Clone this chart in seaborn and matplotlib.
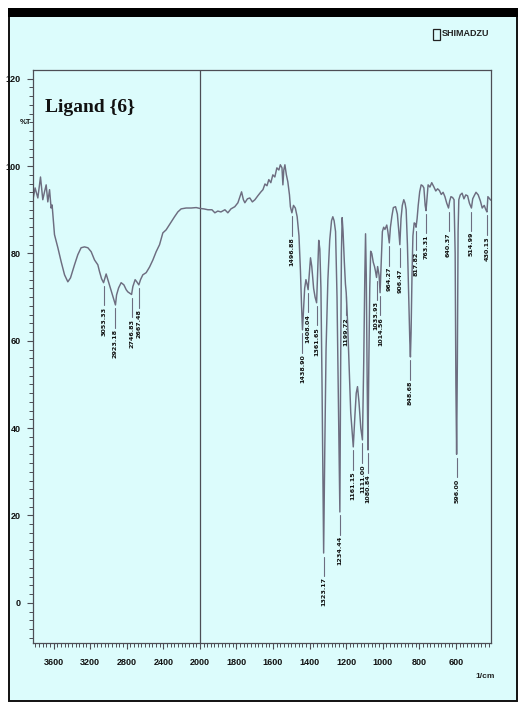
import numpy as np
import pandas as pd
import seaborn as sns
import matplotlib
matplotlib.use("Agg")
import matplotlib.pyplot as plt
from matplotlib.patches import Rectangle
from matplotlib.ticker import FixedLocator, NullFormatter

# ---- spectrum trace (wavenumber in 1/cm, transmittance in %) ----
curve_wavenumber = [
    3822, 3802, 3772, 3743, 3718, 3699, 3681, 3663, 3644, 3627, 3616, 3590,
    3553, 3517, 3480, 3444, 3415, 3371, 3335, 3299, 3262, 3225, 3189, 3152,
    3116, 3097, 3075, 3025, 2988, 2963, 2911, 2889, 2861, 2831, 2806, 2788,
    2733, 2708, 2690, 2649, 2624, 2587, 2550, 2514, 2478, 2441, 2405, 2369,
    2332, 2277, 2241, 2205, 2150, 2095, 2040, 2000,
    1978, 1956, 1934, 1918, 1902, 1885, 1863, 1847, 1830, 1809, 1792, 1772,
    1762, 1754, 1740, 1727, 1713, 1699, 1683, 1666, 1655, 1644, 1633, 1623,
    1612, 1601, 1590, 1579, 1568, 1560, 1551, 1546, 1541, 1535, 1527, 1519,
    1510, 1505, 1488, 1478, 1468, 1458, 1450, 1444, 1433, 1427, 1420, 1414,
    1402, 1395, 1388, 1378, 1370, 1356, 1350, 1344, 1338, 1332, 1327, 1317,
    1310, 1300, 1290, 1280, 1273, 1266, 1258, 1250, 1242, 1230, 1226, 1222,
    1217, 1210, 1204, 1192, 1184, 1175, 1152, 1145, 1138, 1130, 1120, 1104,
    1098, 1094, 1090, 1085, 1076, 1071, 1066, 1060, 1052, 1045, 1040, 1028,
    1020, 1008, 1002, 995, 988, 978, 972, 958, 950, 942, 930, 920, 912, 900,
    893, 885, 878, 872, 865, 858, 852, 845, 840, 835, 828, 822, 812, 806, 798,
    790, 782, 775, 768, 758, 752, 742, 732, 720, 710, 700, 690, 680, 670, 660,
    650, 634, 627, 618, 610, 604, 600, 592, 588, 584, 576, 566, 556, 546, 536,
    526, 508, 500, 490, 478, 466, 456, 445, 436, 425, 417, 410,
]
curve_transmittance = [
    92.7, 95.0, 92.7, 97.5, 92.3, 94.1, 95.7, 91.8, 94.6, 90.4, 91.1, 84.3,
    81.3, 78.1, 75.1, 73.5, 74.4, 77.4, 79.7, 81.3, 81.5, 81.3, 80.4, 78.5,
    77.4, 75.8, 74.2, 75.3, 72.8, 71.0, 70.5, 72.1, 73.3, 72.8, 71.7, 71.2,
    72.4, 74.0, 73.5, 74.0, 75.1, 75.6, 76.9, 78.5, 80.4, 82.0, 84.7, 85.4,
    86.6, 88.4, 89.5, 90.2, 90.4, 90.4, 90.5, 90.3,
    90.2, 90.0, 90.0, 89.3, 89.7, 89.5, 90.0, 89.3, 90.2, 90.7, 91.6, 94.1,
    92.3, 91.6, 92.5, 92.7, 91.8, 92.3, 93.2, 94.1, 94.6, 95.9, 95.5, 96.9,
    96.2, 98.0, 97.5, 99.6, 99.1, 100.3, 99.6, 95.7, 99.1, 100.3, 98.0, 96.4,
    93.4, 90.7, 91.0, 90.4, 88.4, 84.0, 76.0, 68.0, 67.0, 72.0, 74.0, 73.0,
    75.0, 79.0, 77.0, 72.0, 70.0, 76.0, 83.0, 81.0, 72.0, 50.0, 28.0, 35.0,
    58.0, 74.0, 83.0, 87.5, 88.4, 87.5, 85.0, 70.0, 45.0, 55.0, 80.0, 88.2,
    85.0, 78.0, 73.0, 64.0, 54.0, 43.5, 43.0, 48.0, 49.5, 46.0, 40.0, 55.0,
    75.0, 84.5, 75.0, 50.0, 55.0, 72.0, 80.5, 80.0, 78.0, 77.0, 76.0, 77.0,
    75.0, 78.0, 85.0, 86.0, 85.5, 86.5, 85.0, 86.0, 88.5, 90.5, 90.7, 89.0, 85.0, 88.0,
    91.0, 92.3, 91.5, 90.0, 82.0, 70.0, 60.0, 62.0, 75.0, 84.0, 87.0, 86.8, 88.0, 91.0, 94.1,
    95.7, 95.5, 95.0, 91.0, 92.5, 95.7, 95.2, 96.2, 95.2, 94.3, 94.8, 94.4, 93.5, 94.0, 93.0,
    91.5, 92.0, 93.0, 92.8, 92.3, 80.0, 50.0, 55.0, 85.0, 92.3, 93.4, 93.8, 92.5, 93.4, 93.2,
    91.5, 92.5, 93.2, 94.0, 93.4, 92.0, 90.4, 91.0, 90.0, 93.0, 92.6, 92.2,
]

# ---- labelled absorption bands ----
peak_labels = [
    "3053.33", "2923.18", "2746.83", "2667.48", "1496.88", "1438.90",
    "1408.04", "1361.65", "1323.17", "1234.44", "1199.72", "1161.15",
    "1111.00", "1080.84", "1033.93", "1014.56", "964.27", "906.47",
    "848.68", "817.82", "763.31", "640.37", "596.00", "514.99", "430.13",
]
peak_wavenumber = [float(s) for s in peak_labels]
peak_transmittance = [
    73.3, 68.2, 70.6, 72.8, 89.3, 62.5, 71.7, 68.7, 11.4, 20.8, 71.0, 35.7,
    37.3, 35.0, 74.5, 71.0, 82.4, 82.0, 56.3, 86.0, 89.8, 90.4, 34.0, 90.4,
    89.5,
]

x_tick_values = [3600, 3200, 2800, 2400, 2000, 1800, 1600, 1400, 1200, 1000, 800, 600]
y_tick_values = [0, 20, 40, 60, 80, 100, 120]

# ---- styling ----
panel_color = "#dcfcfc"
trace_color = "#6d6d80"
spine_color = "#4d4d55"

sns.set_style("ticks")
plt.rcParams["font.family"] = ["Liberation Sans Narrow", "Liberation Sans", "DejaVu Sans"]

W, H = 523, 703
fig = plt.figure(figsize=(W / 100, H / 100), dpi=100, facecolor="white")


def fx(px):
    return px / W


def fy(py):
    return 1 - py / H


# page frame (drawn beneath everything)
fig.patches.append(Rectangle((fx(9), fy(701)), fx(517 - 9), (701 - 12) / H,
                             transform=fig.transFigure, facecolor=panel_color,
                             edgecolor="#111111", lw=1.4, zorder=-10))
fig.patches.append(Rectangle((fx(8), fy(17)), fx(518 - 8), 9 / H,
                             transform=fig.transFigure, facecolor="black",
                             edgecolor="none", zorder=-9))

ax = fig.add_axes([fx(33), fy(643), fx(491 - 33), (643 - 70) / H])
ax.set_zorder(5)
ax.set_facecolor("none")

# spectrum: trace points plus the labelled band minima
df = pd.DataFrame({
    "wavenumber": curve_wavenumber + peak_wavenumber,
    "T": curve_transmittance + peak_transmittance,
}).sort_values("wavenumber")

sns.lineplot(data=df, x="wavenumber", y="T", ax=ax, color=trace_color,
             lw=1.05, estimator=None, sort=True, legend=False)


# wavenumber axis: half scale above 2000 1/cm
def fwd(w):
    w = np.asarray(w, dtype=float)
    return np.where(w > 2000, 2000 + (w - 2000) / 2.0, w)


def inv(u):
    u = np.asarray(u, dtype=float)
    return np.where(u > 2000, 2000 + (u - 2000) * 2.0, u)


ax.set_xscale("function", functions=(fwd, inv))
ax.set_xlim(3825, 408)
ax.set_ylim(-9.2, 122.0)

ax.axvline(2000, color=spine_color, lw=0.9, zorder=1)

# band markers and labels; labels that would collide are spread sideways
label_drop = 5.5
label_len = 7.5          # approximate label length in % units
min_gap_px = 5.5
xs_px = [ax.transData.transform((wn, 0))[0] for wn in peak_wavenumber]
shift_px = [0.0] * len(peak_labels)
order = np.argsort(xs_px)
for a, b in zip(order[:-1], order[1:]):
    dx = (xs_px[b] + shift_px[b]) - (xs_px[a] + shift_px[a])
    ta, tb = peak_transmittance[a], peak_transmittance[b]
    vertical_overlap = abs(ta - tb) < label_len
    if vertical_overlap and dx < min_gap_px:
        need = min_gap_px - dx
        shift_px[a] -= need / 2
        shift_px[b] += need / 2

for wn, t, lab, sh in zip(peak_wavenumber, peak_transmittance, peak_labels, shift_px):
    ax.plot([wn, wn], [t - 0.8, t - 5.2], color=trace_color, lw=0.8)
    ax.annotate(lab, xy=(wn, t - label_drop), xytext=(sh, 0),
                textcoords="offset pixels", rotation=90, ha="center", va="top",
                fontsize=4.6, fontweight="bold", color="#111111",
                family=["DejaVu Sans"])

# ticks
minor_x = list(range(420, 2000, 20)) + list(range(2040, 3825, 40))
ax.xaxis.set_major_locator(FixedLocator(x_tick_values))
ax.xaxis.set_minor_locator(FixedLocator(minor_x))
ax.xaxis.set_minor_formatter(NullFormatter())
ax.set_xticklabels([str(v) for v in x_tick_values])
ax.yaxis.set_major_locator(FixedLocator(y_tick_values))
ax.yaxis.set_minor_locator(FixedLocator(list(range(-8, 122, 2))))
ax.yaxis.set_minor_formatter(NullFormatter())
ax.set_yticklabels([str(v) for v in y_tick_values])

ax.tick_params(axis="both", which="major", direction="out", length=4.0,
               width=0.8, color=spine_color, labelsize=6.5, labelcolor="#111111")
ax.tick_params(axis="both", which="minor", direction="out", length=2.6,
               width=0.7, color=spine_color)
ax.tick_params(axis="x", which="major", pad=7)
ax.tick_params(axis="y", which="major", pad=5)
for lab in ax.get_xticklabels() + ax.get_yticklabels():
    lab.set_fontweight("bold")

for side in ["left", "right", "top", "bottom"]:
    ax.spines[side].set_visible(True)
    ax.spines[side].set_color(spine_color)
    ax.spines[side].set_linewidth(0.9)

ax.set_xlabel("")
ax.set_ylabel("")

# annotations
fig.text(fx(45), fy(108), "Ligand {6}", fontsize=14, fontweight="bold",
         family=["Liberation Serif", "DejaVu Serif"], ha="left", va="center",
         color="#111111")
fig.text(fx(26), fy(122), "%T", fontsize=5.5, fontweight="bold",
         ha="center", va="center", color="#111111")
fig.text(fx(485), fy(676), "1/cm", fontsize=6, fontweight="bold",
         ha="center", va="center", color="#222222")

# maker badge
fig.patches.append(Rectangle((fx(433), fy(40)), fx(7), 11 / H,
                             transform=fig.transFigure, facecolor="none",
                             edgecolor="#222222", lw=0.9, zorder=3))
fig.text(fx(442), fy(33.5), "SHIMADZU", fontsize=6.5, fontweight="bold",
         ha="left", va="center", color="#222222")

fig.savefig("out.png", dpi=100, facecolor="white")
